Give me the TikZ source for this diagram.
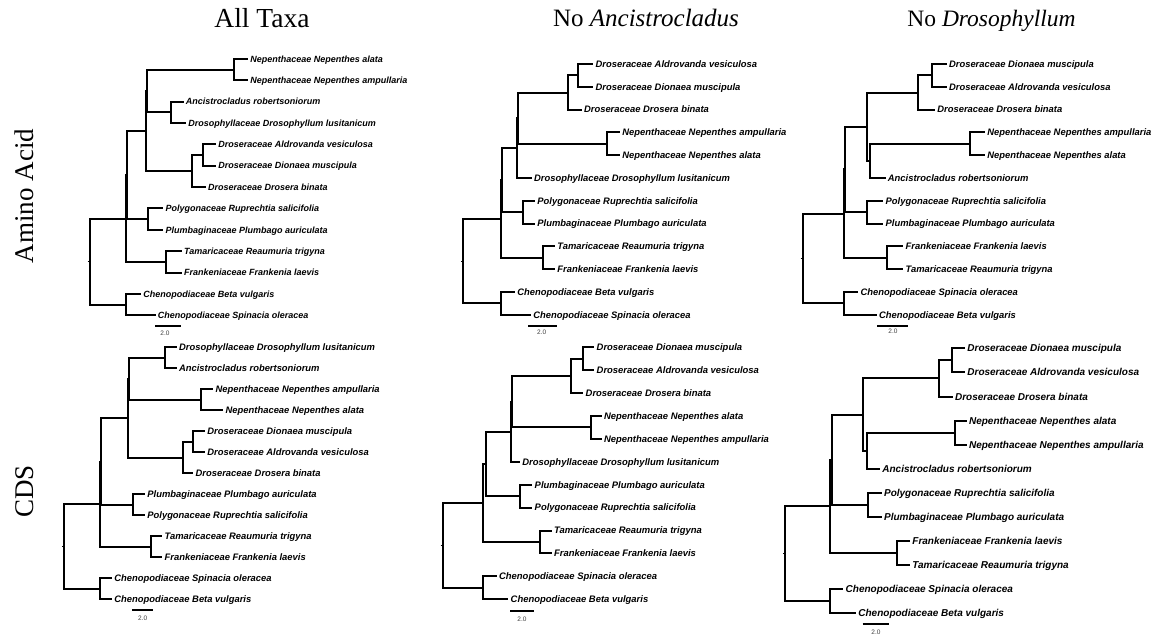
\documentclass[tikz,border=0pt]{standalone}
\usepackage{fontspec}
\setmainfont{Liberation Serif}
\newfontfamily\labfont{Liberation Sans}
\newcommand\leaf[5]{\coordinate (#1) at (#2,#3); \draw[br] (#4) |- (#1); \node[lab] (#1l) at (#1) {#5};}
\tikzset{
  br/.style={line width=2pt, line join=miter},
  stub/.style={line width=1pt},
  lab/.style={anchor=base west, inner sep=0pt, xshift=2.2pt, yshift={-0.355*\ls},
    font=\labfont\bfseries\itshape\fontsize{\ls}{\ls}\selectfont},
  sclab/.style={anchor=base, inner sep=0pt, text=black!75, font=\labfont\fontsize{6.5}{6.5}\selectfont},
  ttl/.style={anchor=base, inner sep=0pt},
  rowlab/.style={anchor=base, inner sep=0pt, rotate=90, font=\fontsize{27}{27}\selectfont}
}
\begin{document}
\begin{tikzpicture}[x=1pt,y=-1pt]
\useasboundingbox[fill=white] (0,0) rectangle (1160,638);

% titles
\node[ttl, font=\fontsize{27.5}{27.5}\selectfont] (title1) at (262,27.3) {All Taxa};
\node[ttl, font=\fontsize{25}{25}\selectfont] (title2) at (646,26.7) {No \textit{Ancistrocladus}};
\node[ttl, font=\fontsize{23.5}{23.5}\selectfont] (title3) at (991.5,26.7) {No \textit{Drosophyllum}};
\node[rowlab] (row1) at (33,196) {Amino Acid};
\node[rowlab] (row2) at (33,491.5) {CDS};

% ---------------- Tree 1 : AA, all taxa
\begin{scope}
\def\ls{9.0}
\coordinate (t1root) at (89.5,261.5);
\coordinate (t1rs) at (87.5,261.5);
\coordinate (t1n2) at (126.3,218.5);
\coordinate (t1che) at (126,304.5);
\coordinate (t1n1) at (127.3,175.1);
\coordinate (t1tam) at (166,261.8);
\coordinate (t1c2) at (145.5,131.1);
\coordinate (t1pol) at (148,219.1);
\coordinate (t1c1) at (147,91.0);
\coordinate (t1dro) at (191.5,171.1);
\coordinate (t1nep) at (234,69.7);
\coordinate (t1anc) at (171,112.4);
\coordinate (t1ad) at (203,155.1);
\draw[stub] (t1rs) -- (t1root);
\draw[br] (t1root) |- (t1n2);
\draw[br] (t1root) |- (t1che);
\draw[br] (t1n2) |- (t1n1);
\draw[br] (t1n2) |- (t1tam);
\draw[br] (t1n1) |- (t1c2);
\draw[br] (t1n1) |- (t1pol);
\draw[br] (t1c2) |- (t1c1);
\draw[br] (t1c2) |- (t1dro);
\draw[br] (t1c1) |- (t1nep);
\draw[br] (t1c1) |- (t1anc);
\draw[br] (t1dro) |- (t1ad);
\leaf{t1a0}{248}{59}{t1nep}{Nepenthaceae Nepenthes alata}
\leaf{t1a1}{248}{80.35}{t1nep}{Nepenthaceae Nepenthes ampullaria}
\leaf{t1a2}{183.5}{101.7}{t1anc}{Ancistrocladus robertsoniorum}
\leaf{t1a3}{186}{123.05}{t1anc}{Drosophyllaceae Drosophyllum lusitanicum}
\leaf{t1a4}{216}{144.4}{t1ad}{Droseraceae Aldrovanda vesiculosa}
\leaf{t1a5}{216}{165.75}{t1ad}{Droseraceae Dionaea muscipula}
\leaf{t1a6}{205.7}{187.1}{t1dro}{Droseraceae Drosera binata}
\leaf{t1a7}{163.3}{208.45}{t1pol}{Polygonaceae Ruprechtia salicifolia}
\leaf{t1a8}{163.3}{229.8}{t1pol}{Plumbaginaceae Plumbago auriculata}
\leaf{t1a9}{181.7}{251.15}{t1tam}{Tamaricaceae Reaumuria trigyna}
\leaf{t1a10}{181.7}{272.5}{t1tam}{Frankeniaceae Frankenia laevis}
\leaf{t1a11}{141}{293.85}{t1che}{Chenopodiaceae Beta vulgaris}
\leaf{t1a12}{155.5}{315.2}{t1che}{Chenopodiaceae Spinacia oleracea}
\coordinate (t1s0) at (155,325.5);
\coordinate (t1s1) at (181,325.5);
\draw[br] (t1s0) -- (t1s1);
\node[sclab] (t1sl) at (165,335) {2.0};
\end{scope}

% ---------------- Tree 2 : AA, no Ancistrocladus
\begin{scope}
\def\ls{9.4}
\coordinate (t2root) at (463.3,261.2);
\coordinate (t2rs) at (461.3,261.2);
\coordinate (t2n2) at (501,219);
\coordinate (t2che) at (501,303.4);
\coordinate (t2n1) at (502,180.15);
\coordinate (t2tam) at (542.7,257.8);
\coordinate (t2c2) at (516.8,148.1);
\coordinate (t2pol) at (523.3,212.2);
\coordinate (t2c1) at (518.3,118.15);
\coordinate (t2dro) at (567.7,92.5);
\coordinate (t2nep) at (606.7,143.8);
\coordinate (t2ad) at (578.3,75.4);
\draw[stub] (t2rs) -- (t2root);
\draw[br] (t2root) |- (t2n2);
\draw[br] (t2root) |- (t2che);
\draw[br] (t2n2) |- (t2n1);
\draw[br] (t2n2) |- (t2tam);
\draw[br] (t2n1) |- (t2c2);
\draw[br] (t2n1) |- (t2pol);
\draw[br] (t2c2) |- (t2c1);
\draw[br] (t2c1) |- (t2dro);
\draw[br] (t2c1) |- (t2nep);
\draw[br] (t2dro) |- (t2ad);
\leaf{t2a0}{593.3}{64}{t2ad}{Droseraceae Aldrovanda vesiculosa}
\leaf{t2a1}{593.3}{86.8}{t2ad}{Droseraceae Dionaea muscipula}
\leaf{t2a2}{581.7}{109.6}{t2dro}{Droseraceae Drosera binata}
\leaf{t2a3}{620}{132.4}{t2nep}{Nepenthaceae Nepenthes ampullaria}
\leaf{t2a4}{620}{155.2}{t2nep}{Nepenthaceae Nepenthes alata}
\leaf{t2a5}{531.7}{178}{t2c2}{Drosophyllaceae Drosophyllum lusitanicum}
\leaf{t2a6}{535}{200.8}{t2pol}{Polygonaceae Ruprechtia salicifolia}
\leaf{t2a7}{535}{223.6}{t2pol}{Plumbaginaceae Plumbago auriculata}
\leaf{t2a8}{555}{246.4}{t2tam}{Tamaricaceae Reaumuria trigyna}
\leaf{t2a9}{555}{269.2}{t2tam}{Frankeniaceae Frankenia laevis}
\leaf{t2a10}{515}{292}{t2che}{Chenopodiaceae Beta vulgaris}
\leaf{t2a11}{531}{314.8}{t2che}{Chenopodiaceae Spinacia oleracea}
\coordinate (t2s0) at (528,325.5);
\coordinate (t2s1) at (556.7,325.5);
\draw[br] (t2s0) -- (t2s1);
\node[sclab] (t2sl) at (541.7,334) {2.0};
\end{scope}

% ---------------- Tree 3 : AA, no Drosophyllum
\begin{scope}
\def\ls{9.4}
\coordinate (t3root) at (802.7,258.5);
\coordinate (t3rs) at (800.7,258.5);
\coordinate (t3n2) at (844,213.6);
\coordinate (t3che) at (844,303.4);
\coordinate (t3n1) at (844.7,169.45);
\coordinate (t3fra) at (887.3,257.8);
\coordinate (t3c2) at (866.7,126.7);
\coordinate (t3pol) at (867.3,212.2);
\coordinate (t3c1) at (870,160.9);
\coordinate (t3dro) at (918.3,92.5);
\coordinate (t3ad) at (931.7,75.4);
\coordinate (t3nep) at (970,143.8);
\draw[stub] (t3rs) -- (t3root);
\draw[br] (t3root) |- (t3n2);
\draw[br] (t3root) |- (t3che);
\draw[br] (t3n2) |- (t3n1);
\draw[br] (t3n2) |- (t3fra);
\draw[br] (t3n1) |- (t3c2);
\draw[br] (t3n1) |- (t3pol);
\draw[br] (t3c2) |- (t3dro);
\draw[br] (t3c2) |- (t3c1);
\draw[br] (t3c1) |- (t3nep);
\draw[br] (t3dro) |- (t3ad);
\leaf{t3a0}{946.7}{64}{t3ad}{Droseraceae Dionaea muscipula}
\leaf{t3a1}{946.7}{86.8}{t3ad}{Droseraceae Aldrovanda vesiculosa}
\leaf{t3a2}{935}{109.6}{t3dro}{Droseraceae Drosera binata}
\leaf{t3a3}{985}{132.4}{t3nep}{Nepenthaceae Nepenthes ampullaria}
\leaf{t3a4}{985}{155.2}{t3nep}{Nepenthaceae Nepenthes alata}
\leaf{t3a5}{885.5}{178}{t3c1}{Ancistrocladus robertsoniorum}
\leaf{t3a6}{883.3}{200.8}{t3pol}{Polygonaceae Ruprechtia salicifolia}
\leaf{t3a7}{883.3}{223.6}{t3pol}{Plumbaginaceae Plumbago auriculata}
\leaf{t3a8}{903.3}{246.4}{t3fra}{Frankeniaceae Frankenia laevis}
\leaf{t3a9}{903.3}{269.2}{t3fra}{Tamaricaceae Reaumuria trigyna}
\leaf{t3a10}{858.3}{292}{t3che}{Chenopodiaceae Spinacia oleracea}
\leaf{t3a11}{876.7}{314.8}{t3che}{Chenopodiaceae Beta vulgaris}
\coordinate (t3s0) at (877,325.5);
\coordinate (t3s1) at (908.3,325.5);
\draw[br] (t3s0) -- (t3s1);
\node[sclab] (t3sl) at (893,333.5) {2.0};
\end{scope}

% ---------------- Tree 4 : CDS, all taxa
\begin{scope}
\def\ls{9.4}
\coordinate (t4root) at (64,546.5);
\coordinate (t4rs) at (62,546.5);
\coordinate (t4n2) at (100,504.15);
\coordinate (t4che) at (100,588.8);
\coordinate (t4n1) at (100.7,461.5);
\coordinate (t4tam) at (150.7,546.8);
\coordinate (t4c2) at (128,418.2);
\coordinate (t4plu) at (133.3,504.8);
\coordinate (t4c1) at (128.7,378.8);
\coordinate (t4dro) at (182.7,457.55);
\coordinate (t4da) at (165,357.8);
\coordinate (t4nep) at (201,399.8);
\coordinate (t4ad) at (193.3,441.8);
\draw[stub] (t4rs) -- (t4root);
\draw[br] (t4root) |- (t4n2);
\draw[br] (t4root) |- (t4che);
\draw[br] (t4n2) |- (t4n1);
\draw[br] (t4n2) |- (t4tam);
\draw[br] (t4n1) |- (t4c2);
\draw[br] (t4n1) |- (t4plu);
\draw[br] (t4c2) |- (t4c1);
\draw[br] (t4c2) |- (t4dro);
\draw[br] (t4c1) |- (t4da);
\draw[br] (t4c1) |- (t4nep);
\draw[br] (t4dro) |- (t4ad);
\leaf{t4a0}{176.7}{347.3}{t4da}{Drosophyllaceae Drosophyllum lusitanicum}
\leaf{t4a1}{176.7}{368.3}{t4da}{Ancistrocladus robertsoniorum}
\leaf{t4a2}{213.3}{389.3}{t4nep}{Nepenthaceae Nepenthes ampullaria}
\leaf{t4a3}{223.3}{410.3}{t4nep}{Nepenthaceae Nepenthes alata}
\leaf{t4a4}{205}{431.3}{t4ad}{Droseraceae Dionaea muscipula}
\leaf{t4a5}{205}{452.3}{t4ad}{Droseraceae Aldrovanda vesiculosa}
\leaf{t4a6}{193.3}{473.3}{t4dro}{Droseraceae Drosera binata}
\leaf{t4a7}{145}{494.3}{t4plu}{Plumbaginaceae Plumbago auriculata}
\leaf{t4a8}{145}{515.3}{t4plu}{Polygonaceae Ruprechtia salicifolia}
\leaf{t4a9}{162.3}{536.3}{t4tam}{Tamaricaceae Reaumuria trigyna}
\leaf{t4a10}{162.3}{557.3}{t4tam}{Frankeniaceae Frankenia laevis}
\leaf{t4a11}{112}{578.3}{t4che}{Chenopodiaceae Spinacia oleracea}
\leaf{t4a12}{112}{599.3}{t4che}{Chenopodiaceae Beta vulgaris}
\coordinate (t4s0) at (132.3,610);
\coordinate (t4s1) at (153.3,610);
\draw[br] (t4s0) -- (t4s1);
\node[sclab] (t4sl) at (142.7,620.5) {2.0};
\end{scope}

% ---------------- Tree 5 : CDS, no Ancistrocladus
\begin{scope}
\def\ls{9.45}
\coordinate (t5root) at (442.7,545.35);
\coordinate (t5rs) at (440.7,545.35);
\coordinate (t5n2) at (482.7,502.95);
\coordinate (t5che) at (482.7,587.75);
\coordinate (t5n1) at (486,463.95);
\coordinate (t5tam) at (540,541.95);
\coordinate (t5c2) at (510.7,431.75);
\coordinate (t5plu) at (520,496.15);
\coordinate (t5c1) at (512,401.7);
\coordinate (t5dro) at (571,375.9);
\coordinate (t5ad) at (582.7,358.75);
\coordinate (t5nep) at (590.7,427.45);
\draw[stub] (t5rs) -- (t5root);
\draw[br] (t5root) |- (t5n2);
\draw[br] (t5root) |- (t5che);
\draw[br] (t5n2) |- (t5n1);
\draw[br] (t5n2) |- (t5tam);
\draw[br] (t5n1) |- (t5c2);
\draw[br] (t5n1) |- (t5plu);
\draw[br] (t5c2) |- (t5c1);
\draw[br] (t5c1) |- (t5dro);
\draw[br] (t5c1) |- (t5nep);
\draw[br] (t5dro) |- (t5ad);
\leaf{t5a0}{594.3}{347.3}{t5ad}{Droseraceae Dionaea muscipula}
\leaf{t5a1}{594.3}{370.2}{t5ad}{Droseraceae Aldrovanda vesiculosa}
\leaf{t5a2}{583.3}{393.1}{t5dro}{Droseraceae Drosera binata}
\leaf{t5a3}{601.7}{416.0}{t5nep}{Nepenthaceae Nepenthes alata}
\leaf{t5a4}{601.7}{438.9}{t5nep}{Nepenthaceae Nepenthes ampullaria}
\leaf{t5a5}{520}{461.8}{t5c2}{Drosophyllaceae Drosophyllum lusitanicum}
\leaf{t5a6}{532.3}{484.7}{t5plu}{Plumbaginaceae Plumbago auriculata}
\leaf{t5a7}{532.3}{507.6}{t5plu}{Polygonaceae Ruprechtia salicifolia}
\leaf{t5a8}{551.7}{530.5}{t5tam}{Tamaricaceae Reaumuria trigyna}
\leaf{t5a9}{551.7}{553.4}{t5tam}{Frankeniaceae Frankenia laevis}
\leaf{t5a10}{496.7}{576.3}{t5che}{Chenopodiaceae Spinacia oleracea}
\leaf{t5a11}{508.3}{599.2}{t5che}{Chenopodiaceae Beta vulgaris}
\coordinate (t5s0) at (510,610.7);
\coordinate (t5s1) at (534,610.7);
\draw[br] (t5s0) -- (t5s1);
\node[sclab] (t5sl) at (522,621) {2.0};
\end{scope}

% ---------------- Tree 6 : CDS, no Drosophyllum
\begin{scope}
\def\ls{10.0}
\coordinate (t6root) at (785,553.9);
\coordinate (t6rs) at (783,553.9);
\coordinate (t6n2) at (830,506.45);
\coordinate (t6che) at (830,601.35);
\coordinate (t6n1) at (831.7,459.75);
\coordinate (t6fra) at (896.7,553.15);
\coordinate (t6c2) at (862.7,414.55);
\coordinate (t6pol) at (868.3,504.95);
\coordinate (t6c1) at (866.7,450.7);
\coordinate (t6dro) at (939.3,378.4);
\coordinate (t6ad) at (951.7,360.35);
\coordinate (t6nep) at (955,432.65);
\draw[stub] (t6rs) -- (t6root);
\draw[br] (t6root) |- (t6n2);
\draw[br] (t6root) |- (t6che);
\draw[br] (t6n2) |- (t6n1);
\draw[br] (t6n2) |- (t6fra);
\draw[br] (t6n1) |- (t6c2);
\draw[br] (t6n1) |- (t6pol);
\draw[br] (t6c2) |- (t6dro);
\draw[br] (t6c2) |- (t6c1);
\draw[br] (t6c1) |- (t6nep);
\draw[br] (t6dro) |- (t6ad);
\leaf{t6a0}{965}{348.3}{t6ad}{Droseraceae Dionaea muscipula}
\leaf{t6a1}{965}{372.4}{t6ad}{Droseraceae Aldrovanda vesiculosa}
\leaf{t6a2}{952.7}{396.5}{t6dro}{Droseraceae Drosera binata}
\leaf{t6a3}{966.7}{420.6}{t6nep}{Nepenthaceae Nepenthes alata}
\leaf{t6a4}{966.7}{444.7}{t6nep}{Nepenthaceae Nepenthes ampullaria}
\leaf{t6a5}{880}{468.8}{t6c1}{Ancistrocladus robertsoniorum}
\leaf{t6a6}{881.7}{492.9}{t6pol}{Polygonaceae Ruprechtia salicifolia}
\leaf{t6a7}{881.7}{517.0}{t6pol}{Plumbaginaceae Plumbago auriculata}
\leaf{t6a8}{910}{541.1}{t6fra}{Frankeniaceae Frankenia laevis}
\leaf{t6a9}{910}{565.2}{t6fra}{Tamaricaceae Reaumuria trigyna}
\leaf{t6a10}{843.3}{589.3}{t6che}{Chenopodiaceae Spinacia oleracea}
\leaf{t6a11}{856}{613.4}{t6che}{Chenopodiaceae Beta vulgaris}
\coordinate (t6s0) at (862.7,624);
\coordinate (t6s1) at (889.3,624);
\draw[br] (t6s0) -- (t6s1);
\node[sclab] (t6sl) at (876,634) {2.0};
\end{scope}
\end{tikzpicture}
\end{document}
